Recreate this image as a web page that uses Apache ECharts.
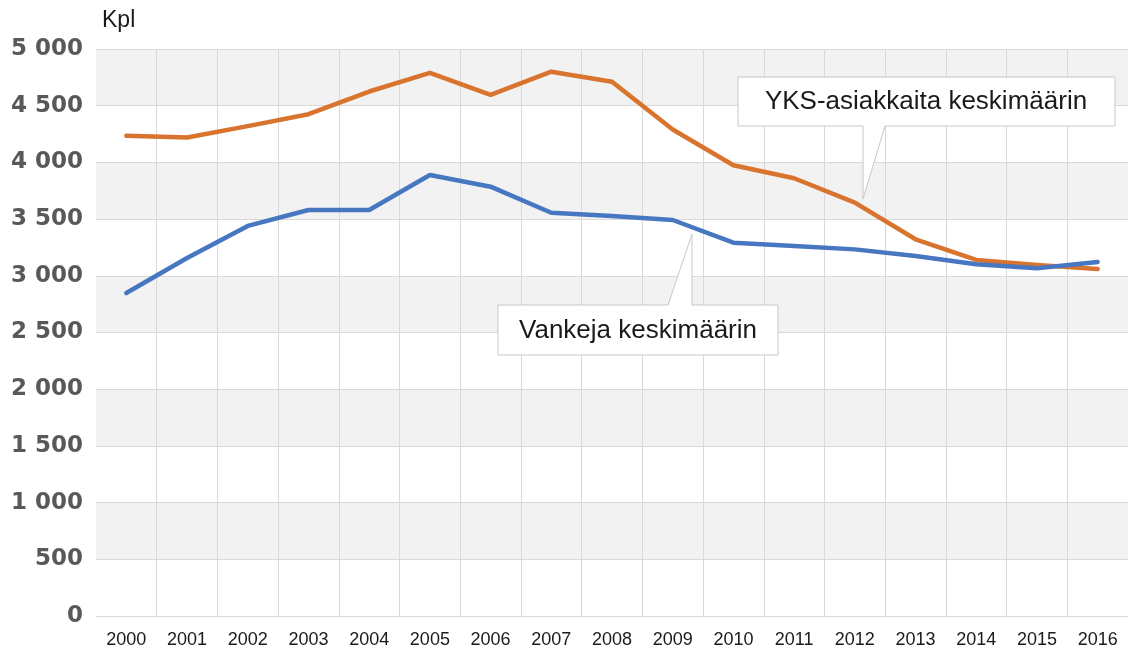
<!DOCTYPE html>
<html>
<head>
<meta charset="utf-8">
<script src="https://cdn.jsdelivr.net/npm/echarts@6/dist/echarts.min.js"></script>
<style>
  html, body { margin: 0; padding: 0; background: #fff; }
  #chart { width: 1128px; height: 657px; }
</style>
</head>
<body>
<div id="chart"></div>
<script>
const years = ['2000','2001','2002','2003','2004','2005','2006','2007','2008',
  '2009','2010','2011','2012','2013','2014','2015','2016'];
const yksAsiakkaat = [4235, 4220, 4320, 4425, 4625, 4790, 4595, 4800, 4712,
  4290, 3975, 3860, 3645, 3322, 3140, 3095, 3060];
const vangit = [2848, 3157, 3440, 3580, 3580, 3889, 3786, 3556, 3527,
  3492, 3292, 3263, 3233, 3175, 3101, 3066, 3122];
const yTicks = [0, 500, 1000, 1500, 2000, 2500, 3000, 3500, 4000, 4500, 5000];

const chart = echarts.init(document.getElementById('chart'));

// Finnish style thousands: "5 000"
function fmt(v) {
  return String(v).replace(/\B(?=(\d{3})+(?!\d))/g, ' ');
}

// callout box + pointer, points in px
function callout(points, text, cx, cy) {
  return [
    {
      type: 'polygon',
      shape: { points: points },
      style: { fill: '#fff', stroke: '#c8c8c8', lineWidth: 1 },
      z: 100
    },
    {
      type: 'text',
      x: cx, y: cy,
      style: {
        text: text,
        fill: '#1a1a1a',
        font: '26px "Liberation Sans", Arial, sans-serif',
        align: 'center',
        verticalAlign: 'middle'
      },
      z: 101
    }
  ];
}

const option = {
  animation: false,
  grid: { left: 96, right: 0, top: 49, bottom: 41 },
  xAxis: {
    type: 'category',
    data: years,
    boundaryGap: true,
    axisLine: { show: true, lineStyle: { color: '#d9d9d9', width: 1 } },
    axisTick: { show: false },
    axisLabel: {
      margin: 15,
      color: '#1a1a1a',
      fontSize: 18,
      fontFamily: '"Liberation Sans Narrow", "Liberation Sans", Arial, sans-serif'
    },
    splitLine: {
      show: true,
      interval: function (i) { return i !== 0; },
      lineStyle: { color: '#d9d9d9', width: 1 }
    }
  },
  yAxis: {
    type: 'value',
    min: yTicks[0],
    max: yTicks[yTicks.length - 1],
    interval: 500,
    name: 'Kpl',
    nameLocation: 'end',
    nameGap: 17,
    nameTextStyle: {
      color: '#1a1a1a',
      fontSize: 23,
      fontFamily: '"Liberation Sans", Arial, sans-serif',
      align: 'left',
      padding: [0, 0, 0, 6]
    },
    axisLine: { show: false },
    axisTick: { show: false },
    axisLabel: {
      margin: 13,
      color: '#595959',
      fontSize: 23,
      fontWeight: 'bold',
      fontFamily: '"DejaVu Sans", sans-serif',
      formatter: fmt
    },
    splitLine: { show: true, lineStyle: { color: '#d9d9d9', width: 1 } },
    splitArea: { show: true, areaStyle: { color: ['#ffffff', '#f2f2f2'] } }
  },
  series: [
    {
      name: 'YKS-asiakkaita keskimäärin',
      type: 'line',
      data: yksAsiakkaat,
      symbol: 'none',
      lineStyle: { color: '#d9742e', width: 4.5, join: 'round', cap: 'round' },
      z: 3
    },
    {
      name: 'Vankeja keskimäärin',
      type: 'line',
      data: vangit,
      symbol: 'none',
      lineStyle: { color: '#4677c0', width: 4.5, join: 'round', cap: 'round' },
      z: 4
    }
  ],
  graphic: [].concat(
    callout([[738, 77], [1115, 77], [1115, 126], [885, 126], [863, 199], [863, 126], [738, 126]],
      'YKS-asiakkaita keskimäärin', 926, 102),
    callout([[498, 305], [668, 305], [692, 234], [692, 305], [778, 305], [778, 355], [498, 355]],
      'Vankeja keskimäärin', 638, 331)
  )
};

chart.setOption(option);
</script>
</body>
</html>
